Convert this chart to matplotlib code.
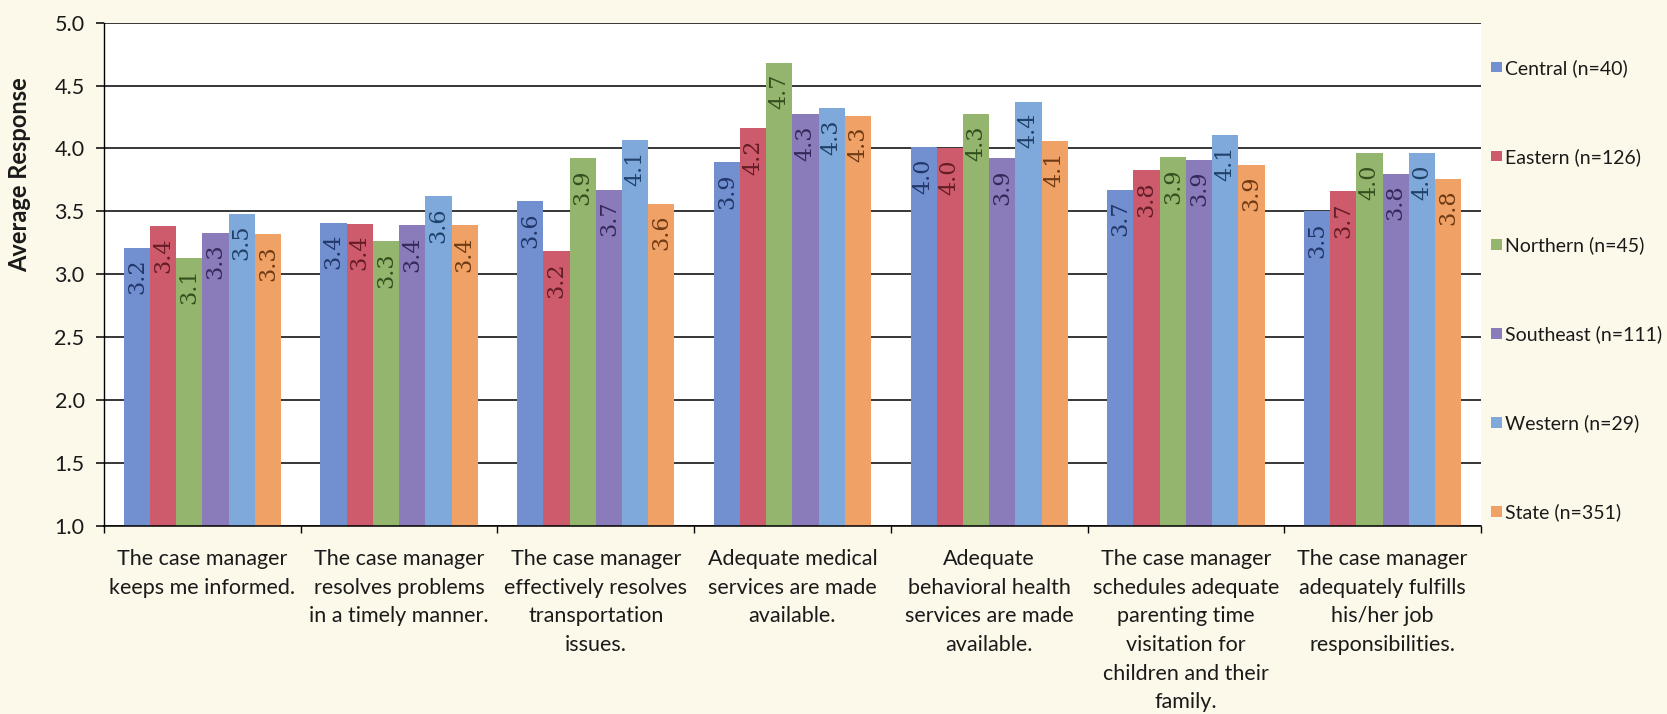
import matplotlib
matplotlib.use("Agg")
import matplotlib.pyplot as plt
import numpy as np
from matplotlib.patches import Patch

categories = [
    "The case manager\nkeeps me informed.",
    "The case manager\nresolves problems\nin a timely manner.",
    "The case manager\neffectively resolves\ntransportation\nissues.",
    "Adequate medical\nservices are made\navailable.",
    "Adequate\nbehavioral health\nservices are made\navailable.",
    "The case manager\nschedules adequate\nparenting time\nvisitation for\nchildren and their\nfamily.",
    "The case manager\nadequately fulfills\nhis/her job\nresponsibilities.",
]

series_names = ["Central (n=40)", "Eastern (n=126)", "Northern (n=45)",
                "Southeast (n=111)", "Western (n=29)", "State (n=351)"]

central   = [3.21, 3.41, 3.58, 3.89, 4.01, 3.67, 3.50]
eastern   = [3.38, 3.40, 3.18, 4.16, 4.00, 3.83, 3.66]
northern  = [3.13, 3.26, 3.92, 4.68, 4.27, 3.93, 3.96]
southeast = [3.33, 3.39, 3.67, 4.27, 3.92, 3.91, 3.80]
western   = [3.48, 3.62, 4.07, 4.32, 4.37, 4.11, 3.96]
state     = [3.32, 3.39, 3.56, 4.26, 4.06, 3.87, 3.76]

series_values = [central, eastern, northern, southeast, western, state]

bar_colors = ["#7290D0", "#CD5B6B", "#93B56E", "#8A7CBA", "#7EA9DA", "#F0A165"]
text_colors = ["#22366A", "#641C26", "#344F1E", "#34295A", "#1F416A", "#6E3A14"]

yticks = [1.0, 1.5, 2.0, 2.5, 3.0, 3.5, 4.0, 4.5, 5.0]

plt.rcParams["font.family"] = ["Lato", "DejaVu Sans"]

fig = plt.figure(figsize=(16.67, 7.14), dpi=100)
fig.patch.set_facecolor("#FCF8EA")
ax = fig.add_axes([0.0624, 0.264, 0.8260, 0.7042])
ax.set_facecolor("white")

n = len(series_values)
w = 1.0 / 7.5
x = np.arange(len(categories))

for i, (vals, name) in enumerate(zip(series_values, series_names)):
    pos = x + (i - (n - 1) / 2) * w
    ax.bar(pos, vals, width=w, color=bar_colors[i], label=name, zorder=2,
           linewidth=0)
    for px, v in zip(pos, vals):
        ax.annotate(f"{v:.1f}", xy=(px, v), xytext=(0, -8),
                    textcoords="offset points", rotation=90,
                    ha="center", va="top", fontsize=16,
                    family="DejaVu Serif", color=text_colors[i], zorder=3)

ax.set_ylim(1.0, 5.0)
ax.set_xlim(-0.5, len(categories) - 0.5)
ax.set_yticks(yticks)
ax.set_yticklabels([f"{t:.1f}" for t in yticks], fontsize=15.5, color="#1a1a1a")
ax.yaxis.grid(True, color="black", linewidth=1.1, zorder=0)
ax.set_axisbelow(True)
ax.tick_params(axis="y", length=6, width=1.1, direction="out", pad=8)

ax.set_xticks(x)
ax.set_xticklabels(categories, fontsize=15.5, linespacing=1.54, color="#1a1a1a",
                   va="top")
ax.set_xticks(np.arange(-0.5, len(categories), 1.0), minor=True)
ax.tick_params(axis="x", which="major", length=0, pad=17)
ax.tick_params(axis="x", which="minor", length=5, width=1.0, direction="out")

for s in ["top", "right"]:
    ax.spines[s].set_visible(False)
ax.spines["left"].set_linewidth(1.0)
ax.spines["bottom"].set_linewidth(1.1)

ax.set_ylabel("Average Response", fontsize=17, fontweight="bold",
              color="#1a1a1a")
ax.yaxis.set_label_coords(-0.053, 0.698)

handles = [Patch(facecolor=c, edgecolor="none") for c in bar_colors]
fig.legend(handles, series_names, loc="upper left",
           bbox_to_anchor=(0.8944, 0.9175), frameon=False, fontsize=14,
           handlelength=0.55, handleheight=0.45, handletextpad=0.18,
           labelspacing=3.65, borderpad=0, borderaxespad=0,
           labelcolor="#1a1a1a")

fig.savefig("out.png", dpi=100, facecolor=fig.get_facecolor())
